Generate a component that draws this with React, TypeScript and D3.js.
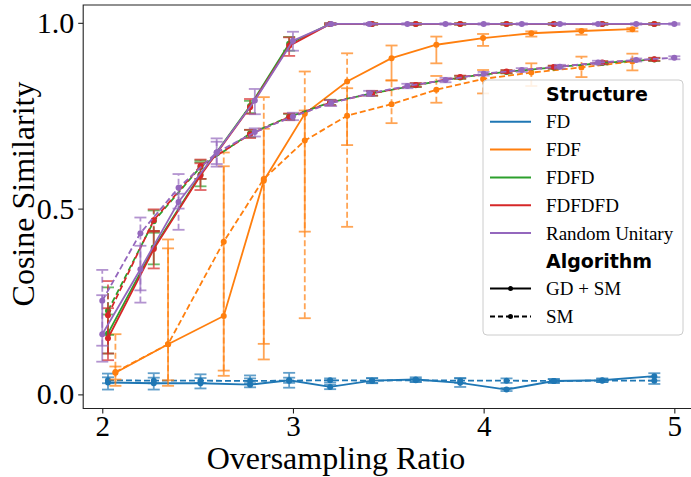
import React, { useEffect, useRef } from 'react';
import * as d3 from 'd3';

// Structures / algorithms shown in the legend
const structureNames = ['FD', 'FDF', 'FDFD', 'FDFDFD', 'Random Unitary'];
const structureColors = ['#1f77b4', '#ff7f0e', '#2ca02c', '#d62728', '#9467bd'];
const algorithmNames = ['GD + SM', 'SM'];

const xTicks = [2, 3, 4, 5];
const yTicks = [0.0, 0.5, 1.0];

// Oversampling ratios (x positions) per structure
const ratiosFD = [2.03, 2.27, 2.515, 2.775, 2.98, 3.195, 3.415, 3.644, 3.877, 4.12, 4.368, 4.622, 4.895];
const ratiosFDF = [2.069, 2.345, 2.637, 2.847, 3.062, 3.284, 3.517, 3.752, 3.997, 4.25, 4.513, 4.78];
const ratiosRandom = [2.0, 2.2, 2.4, 2.6, 2.8, 3.0, 3.2, 3.4, 3.6, 3.8, 4.0, 4.2, 4.4, 4.6, 4.8, 5.0];

// FD
const fdGdMean = [0.032, 0.03, 0.03, 0.026, 0.038, 0.02, 0.037, 0.04, 0.031, 0.013, 0.036, 0.038, 0.049];
const fdGdLo = [0.013, 0.013, 0.016, 0.019, 0.018, 0.014, 0.03, 0.034, 0.02, 0.009, 0.031, 0.033, 0.037];
const fdGdHi = [0.056, 0.057, 0.054, 0.051, 0.058, 0.026, 0.044, 0.046, 0.043, 0.017, 0.041, 0.043, 0.057];
const fdSmMean = [0.038, 0.037, 0.037, 0.036, 0.037, 0.038, 0.037, 0.038, 0.037, 0.037, 0.036, 0.037, 0.037];
const fdSmLo = [0.03, 0.03, 0.031, 0.03, 0.031, 0.032, 0.031, 0.033, 0.031, 0.031, 0.031, 0.033, 0.028];
const fdSmHi = [0.046, 0.045, 0.044, 0.043, 0.045, 0.043, 0.043, 0.042, 0.044, 0.043, 0.041, 0.041, 0.046];

// FDF
const fdfGdMean = [0.058, 0.135, 0.211, 0.575, 0.755, 0.842, 0.905, 0.941, 0.959, 0.972, 0.978, 0.983];
const fdfGdLo = [0.04, 0.023, 0.05, 0.094, 0.438, 0.671, 0.845, 0.891, 0.938, 0.963, 0.968, 0.977];
const fdfGdHi = [0.075, 0.417, 0.614, 0.715, 0.764, 0.824, 0.939, 0.963, 0.97, 0.977, 0.983, 0.986];
const fdfSmMean = [0.06, 0.135, 0.411, 0.58, 0.683, 0.75, 0.781, 0.82, 0.849, 0.866, 0.88, 0.896];
const fdfSmLo = [0.023, 0.038, 0.064, 0.136, 0.205, 0.451, 0.73, 0.785, 0.81, 0.83, 0.854, 0.872];
const fdfSmHi = [0.162, 0.393, 0.651, 0.8, 0.869, 0.918, 0.845, 0.857, 0.873, 0.891, 0.909, 0.917];

// FDFD
const fdfdGdMean = [0.164, 0.395, 0.592, 0.776, 0.944, 0.997, 0.997, 0.997, 0.997, 0.997, 0.997, 0.997, 0.997];
const fdfdGdLo = [0.11, 0.35, 0.56, 0.757, 0.925, 0.995, 0.995, 0.995, 0.995, 0.995, 0.995, 0.995, 0.995];
const fdfdGdHi = [0.215, 0.44, 0.625, 0.79, 0.962, 0.999, 0.999, 0.999, 0.999, 0.999, 0.999, 0.999, 0.999];
const fdfdSmMean = [0.225, 0.466, 0.612, 0.702, 0.747, 0.786, 0.81, 0.832, 0.853, 0.868, 0.88, 0.892, 0.901];
const fdfdSmLo = [0.16, 0.435, 0.58, 0.692, 0.739, 0.779, 0.804, 0.827, 0.849, 0.864, 0.876, 0.888, 0.897];
const fdfdSmHi = [0.288, 0.495, 0.63, 0.712, 0.755, 0.793, 0.816, 0.837, 0.857, 0.872, 0.884, 0.896, 0.905];

// FDFDFD
const fdfdfdGdMean = [0.151, 0.391, 0.589, 0.773, 0.938, 0.997, 0.997, 0.997, 0.997, 0.997, 0.997, 0.997, 0.997];
const fdfdfdGdLo = [0.092, 0.339, 0.55, 0.755, 0.911, 0.995, 0.995, 0.995, 0.995, 0.995, 0.995, 0.995, 0.995];
const fdfdfdGdHi = [0.232, 0.44, 0.622, 0.795, 0.961, 0.999, 0.999, 0.999, 0.999, 0.999, 0.999, 0.999, 0.999];
const fdfdfdSmMean = [0.213, 0.469, 0.615, 0.7, 0.746, 0.785, 0.81, 0.833, 0.854, 0.869, 0.881, 0.893, 0.902];
const fdfdfdSmLo = [0.11, 0.438, 0.58, 0.69, 0.738, 0.778, 0.804, 0.828, 0.85, 0.865, 0.877, 0.889, 0.898];
const fdfdfdSmHi = [0.305, 0.498, 0.632, 0.712, 0.756, 0.792, 0.817, 0.838, 0.858, 0.873, 0.885, 0.897, 0.906];

// Random Unitary
const randGdMean = [0.162, 0.337, 0.518, 0.651, 0.791, 0.952, 0.997, 0.997, 0.997, 0.997, 0.997, 0.997, 0.997, 0.997, 0.997, 0.997];
const randGdLo = [0.088, 0.28, 0.5, 0.613, 0.754, 0.925, 0.995, 0.995, 0.995, 0.995, 0.995, 0.995, 0.995, 0.995, 0.995, 0.995];
const randGdHi = [0.267, 0.4, 0.54, 0.689, 0.822, 0.976, 0.999, 0.999, 0.999, 0.999, 0.999, 0.999, 0.999, 0.999, 0.999, 0.999];
const randSmMean = [0.252, 0.434, 0.556, 0.651, 0.706, 0.748, 0.784, 0.81, 0.83, 0.846, 0.863, 0.873, 0.882, 0.893, 0.9, 0.906];
const randSmLo = [0.131, 0.247, 0.443, 0.62, 0.694, 0.738, 0.776, 0.803, 0.824, 0.84, 0.858, 0.868, 0.877, 0.888, 0.896, 0.902];
const randSmHi = [0.335, 0.476, 0.593, 0.68, 0.716, 0.758, 0.792, 0.817, 0.836, 0.852, 0.868, 0.878, 0.887, 0.898, 0.904, 0.91];

interface Series {
  color: string;
  dashed: boolean;
  x: number[];
  mean: number[];
  lo: number[];
  hi: number[];
}

const seriesList: Series[] = [
  { color: structureColors[0], dashed: false, x: ratiosFD, mean: fdGdMean, lo: fdGdLo, hi: fdGdHi },
  { color: structureColors[0], dashed: true, x: ratiosFD, mean: fdSmMean, lo: fdSmLo, hi: fdSmHi },
  { color: structureColors[1], dashed: false, x: ratiosFDF, mean: fdfGdMean, lo: fdfGdLo, hi: fdfGdHi },
  { color: structureColors[1], dashed: true, x: ratiosFDF, mean: fdfSmMean, lo: fdfSmLo, hi: fdfSmHi },
  { color: structureColors[2], dashed: false, x: ratiosFD, mean: fdfdGdMean, lo: fdfdGdLo, hi: fdfdGdHi },
  { color: structureColors[2], dashed: true, x: ratiosFD, mean: fdfdSmMean, lo: fdfdSmLo, hi: fdfdSmHi },
  { color: structureColors[3], dashed: false, x: ratiosFD, mean: fdfdfdGdMean, lo: fdfdfdGdLo, hi: fdfdfdGdHi },
  { color: structureColors[3], dashed: true, x: ratiosFD, mean: fdfdfdSmMean, lo: fdfdfdSmLo, hi: fdfdfdSmHi },
  { color: structureColors[4], dashed: false, x: ratiosRandom, mean: randGdMean, lo: randGdLo, hi: randGdHi },
  { color: structureColors[4], dashed: true, x: ratiosRandom, mean: randSmMean, lo: randSmLo, hi: randSmHi },
];

const SERIF = '"Liberation Serif", "Times New Roman", serif';
const SANS = '"DejaVu Sans", sans-serif';

const width = 691;
const height = 477;

const CosineChart: React.FC = () => {
  const svgRef = useRef<SVGSVGElement>(null);

  useEffect(() => {
    if (!svgRef.current) return;
    const svg = d3.select(svgRef.current);
    svg.selectAll('*').remove();

    // plot box in pixels (right spine falls just outside the picture)
    const left = 83.2, right = 693.4, top = 5, bottom = 408.5;

    const x = d3.scaleLinear().domain([1.9, 5.1]).range([left, right]);
    const y = d3.scaleLinear().domain([-0.038, 1.048]).range([bottom, top]);

    const dash = '6,3';
    const cap = 6;

    // series
    seriesList.forEach(s => {
      const g = svg.append('g');
      const pts = s.x.map((xv, i) => ({ x: xv, m: s.mean[i], lo: s.lo[i], hi: s.hi[i] }));

      const line = d3.line<typeof pts[0]>()
        .x(d => x(d.x))
        .y(d => y(d.m));

      g.append('path')
        .datum(pts)
        .attr('d', line)
        .attr('fill', 'none')
        .attr('stroke', s.color)
        .attr('stroke-width', 1.8)
        .attr('stroke-dasharray', s.dashed ? dash : null);

      // error bars
      const eb = g.append('g').attr('opacity', 0.7);
      eb.selectAll('line.bar')
        .data(pts)
        .enter().append('line')
        .attr('class', 'bar')
        .attr('x1', d => x(d.x))
        .attr('x2', d => x(d.x))
        .attr('y1', d => y(d.lo))
        .attr('y2', d => y(d.hi))
        .attr('stroke', s.color)
        .attr('stroke-width', 1.8)
        .attr('stroke-dasharray', s.dashed ? dash : null);

      ['lo', 'hi'].forEach(k => {
        eb.selectAll(`line.cap-${k}`)
          .data(pts)
          .enter().append('line')
          .attr('class', `cap-${k}`)
          .attr('x1', d => x(d.x) - cap)
          .attr('x2', d => x(d.x) + cap)
          .attr('y1', d => y((d as any)[k]))
          .attr('y2', d => y((d as any)[k]))
          .attr('stroke', s.color)
          .attr('stroke-width', 1.8);
      });

      g.selectAll('circle')
        .data(pts)
        .enter().append('circle')
        .attr('cx', d => x(d.x))
        .attr('cy', d => y(d.m))
        .attr('r', 3)
        .attr('fill', s.color);
    });

    // spines
    svg.append('path')
      .attr('d', `M${right},${top}H${left}V${bottom}H${right}`)
      .attr('fill', 'none')
      .attr('stroke', '#222')
      .attr('stroke-width', 1.1);

    // axes
    const xAxis = svg.append('g')
      .attr('transform', `translate(0,${bottom})`)
      .call(d3.axisBottom(x).tickValues(xTicks).tickFormat(d3.format('d')).tickSize(5).tickPadding(2));
    xAxis.select('.domain').remove();
    xAxis.selectAll('line').attr('stroke', '#222').attr('stroke-width', 1.1);
    xAxis.selectAll('text')
      .style('font-family', SERIF)
      .style('font-size', '29px')
      .attr('fill', '#000');

    const yAxis = svg.append('g')
      .attr('transform', `translate(${left},0)`)
      .call(d3.axisLeft(y).tickValues(yTicks).tickFormat(d3.format('.1f')).tickSize(5).tickPadding(4));
    yAxis.select('.domain').remove();
    yAxis.selectAll('line').attr('stroke', '#222').attr('stroke-width', 1.1);
    yAxis.selectAll('text')
      .style('font-family', SERIF)
      .style('font-size', '30px')
      .attr('fill', '#000');

    // axis labels
    svg.append('text')
      .attr('x', 336)
      .attr('y', 469)
      .attr('text-anchor', 'middle')
      .style('font-family', SERIF)
      .style('font-size', '32px')
      .text('Oversampling Ratio');

    svg.append('text')
      .attr('transform', `translate(34,194) rotate(-90)`)
      .attr('text-anchor', 'middle')
      .style('font-family', SERIF)
      .style('font-size', '32px')
      .text('Cosine Similarity');

    // legend
    const lg = svg.append('g').attr('transform', 'translate(483,80)');
    lg.append('rect')
      .attr('width', 200)
      .attr('height', 255)
      .attr('rx', 4)
      .attr('fill', 'white')
      .attr('fill-opacity', 0.85)
      .attr('stroke', '#cccccc');

    const rowH = 27.8;
    const textX = 63;
    const headerRow = (label: string, row: number) => {
      lg.append('text')
        .attr('x', textX)
        .attr('y', 14 + row * rowH + 7)
        .style('font-family', SANS)
        .style('font-weight', 'bold')
        .style('font-size', '19px')
        .text(label);
    };

    headerRow('Structure', 0);
    structureNames.forEach((name, i) => {
      const cy = 14 + (i + 1) * rowH;
      lg.append('line')
        .attr('x1', 7).attr('x2', 48)
        .attr('y1', cy).attr('y2', cy)
        .attr('stroke', structureColors[i])
        .attr('stroke-width', 2);
      lg.append('text')
        .attr('x', textX)
        .attr('y', cy + 6.5)
        .style('font-family', SERIF)
        .style('font-size', '19px')
        .text(name);
    });

    headerRow('Algorithm', 6);
    algorithmNames.forEach((name, i) => {
      const cy = 14 + (i + 7) * rowH;
      lg.append('line')
        .attr('x1', 7).attr('x2', 48)
        .attr('y1', cy).attr('y2', cy)
        .attr('stroke', '#000')
        .attr('stroke-width', 2)
        .attr('stroke-dasharray', i === 1 ? '5,3' : null);
      lg.append('circle')
        .attr('cx', 27.5).attr('cy', cy).attr('r', 2.5)
        .attr('fill', '#000');
      lg.append('text')
        .attr('x', textX)
        .attr('y', cy + 6.5)
        .style('font-family', SERIF)
        .style('font-size', '19px')
        .text(name);
    });
  }, []);

  return (
    <svg
      ref={svgRef}
      width={width}
      height={height}
      style={{ position: 'absolute', left: 0, top: 0, background: 'white', display: 'block' }}
    />
  );
};

export default function App() {
  return <CosineChart />;
}
